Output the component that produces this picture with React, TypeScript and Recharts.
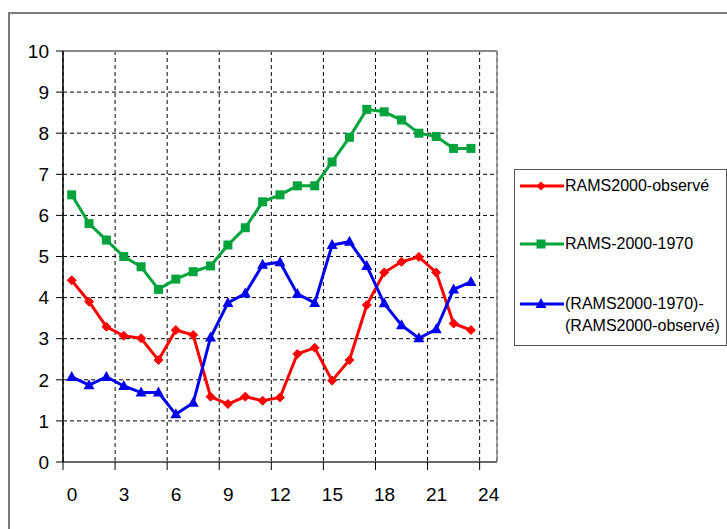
import React from "react";
import { LineChart, Line, XAxis, YAxis, CartesianGrid, ReferenceLine } from "recharts";

const hours = [0.5, 1.5, 2.5, 3.5, 4.5, 5.5, 6.5, 7.5, 8.5, 9.5, 10.5, 11.5, 12.5, 13.5, 14.5, 15.5, 16.5, 17.5, 18.5, 19.5, 20.5, 21.5, 22.5, 23.5];
const ramsObs = [4.42, 3.9, 3.29, 3.07, 3.01, 2.48, 3.21, 3.09, 1.59, 1.41, 1.59, 1.49, 1.57, 2.63, 2.78, 1.98, 2.48, 3.82, 4.61, 4.87, 4.99, 4.61, 3.37, 3.21];
const rams2000_1970 = [6.5, 5.8, 5.4, 5.0, 4.75, 4.2, 4.45, 4.63, 4.77, 5.28, 5.7, 6.33, 6.5, 6.72, 6.72, 7.3, 7.9, 8.58, 8.52, 8.32, 8.0, 7.92, 7.63, 7.63];
const diffSeries = [2.07, 1.87, 2.07, 1.85, 1.69, 1.69, 1.16, 1.44, 3.03, 3.87, 4.1, 4.8, 4.86, 4.09, 3.87, 5.28, 5.36, 4.77, 3.86, 3.33, 3.01, 3.23, 4.2, 4.38];
const xTicks = [0, 3, 6, 9, 12, 15, 18, 21, 24];
const yTicks = [0, 1, 2, 3, 4, 5, 6, 7, 8, 9, 10];

const RED = "#FF0000";
const GREEN = "#00A33C";
const BLUE = "#0000F0";

const data = hours.map((h, i) => ({
  x: h,
  obs: ramsObs[i],
  g: rams2000_1970[i],
  d: diffSeries[i],
}));

const FONT = '"Liberation Sans", Arial, sans-serif';

const Diamond = (props: any) => {
  const { cx, cy, key } = props;
  const r = 4.5;
  return <polygon key={key} points={`${cx},${cy - r} ${cx + r},${cy} ${cx},${cy + r} ${cx - r},${cy}`} fill={RED} stroke={RED} strokeWidth={1} />;
};
const Square = (props: any) => {
  const { cx, cy, key } = props;
  const s = 4.5;
  return <rect key={key} x={cx - s} y={cy - s} width={2 * s} height={2 * s} fill={GREEN} />;
};
const Triangle = (props: any) => {
  const { cx, cy, key } = props;
  return <polygon key={key} points={`${cx},${cy - 6} ${cx + 5.5},${cy + 4} ${cx - 5.5},${cy + 4}`} fill={BLUE} />;
};

const XTick = (props: any) => {
  const { x, y, payload } = props;
  return (
    <text x={x + 9} y={y + 31} textAnchor="middle" fontSize={19} fontFamily={FONT} fill="#000">
      {payload.value}
    </text>
  );
};

const legendItems = [
  { color: RED, lines: ["RAMS2000-observé"], marker: "diamond", top: 16 },
  { color: GREEN, lines: ["RAMS-2000-1970"], marker: "square", top: 74 },
  { color: BLUE, lines: ["(RAMS2000-1970)-", "(RAMS2000-observé)"], marker: "triangle", top: 134 },
];

const LegendBox = () => (
  <div
    style={{
      position: "absolute",
      left: 514,
      top: 169,
      width: 213,
      height: 177,
      border: "1px solid #555",
      background: "#fff",
      boxSizing: "border-box",
      fontFamily: FONT,
      fontSize: 16,
      color: "#000",
    }}
  >
    {legendItems.map((it) => (
      <div key={it.lines[0]}>
        <svg style={{ position: "absolute", left: 4, top: it.top - 8 }} width={46} height={16}>
          <line x1={1} y1={8} x2={45} y2={8} stroke={it.color} strokeWidth={3} />
          {it.marker === "diamond" && <polygon points="22,3.5 26.5,8 22,12.5 17.5,8" fill={it.color} />}
          {it.marker === "square" && <rect x={17.5} y={3.5} width={9} height={9} fill={it.color} />}
          {it.marker === "triangle" && <polygon points="22,2 27.5,12 16.5,12" fill={it.color} />}
        </svg>
        {it.lines.map((t, j) => (
          <div
            key={t}
            style={{
              position: "absolute",
              left: 50,
              top: it.top - 10 + j * 22,
              lineHeight: "20px",
              whiteSpace: "nowrap",
            }}
          >
            {t}
          </div>
        ))}
      </div>
    ))}
  </div>
);

export default function App() {
  return (
    <div style={{ position: "absolute", left: 0, top: 0, width: 727, height: 529, overflow: "hidden", background: "#fff" }}>
      <div
        style={{
          position: "absolute",
          left: 8,
          top: 12,
          width: 800,
          height: 600,
          borderLeft: "2px solid #7a7a7a",
          borderTop: "2px solid #7a7a7a",
        }}
      />
      <div style={{ position: "absolute", left: 0, top: 0 }}>
        <LineChart width={727} height={529} data={data} margin={{ top: 51, right: 230, bottom: 27, left: 0 }}>
          <CartesianGrid stroke="#000" strokeDasharray="4 3" strokeWidth={1} />
          <ReferenceLine y={10} stroke="#8a8a8a" strokeWidth={2} />
          <ReferenceLine x={25} stroke="#8a8a8a" strokeWidth={1.5} />
          <XAxis
            type="number"
            dataKey="x"
            domain={[0, 25]}
            ticks={xTicks}
            allowDataOverflow
            height={40}
            tickSize={8}
            tickMargin={0}
            axisLine={{ stroke: "#6a6a6a", strokeWidth: 2 }}
            tickLine={{ stroke: "#000" }}
            tick={<XTick />}
            interval={0}
          />
          <YAxis
            type="number"
            domain={[0, 10]}
            ticks={yTicks}
            width={63}
            tickSize={7}
            tickMargin={7}
            interval={0}
            axisLine={{ stroke: "#000", strokeWidth: 1.5 }}
            tickLine={{ stroke: "#000" }}
            tick={{ fontSize: 19, fontFamily: FONT, fill: "#000" }}
          />
          <Line type="linear" dataKey="obs" name="RAMS2000-observé" stroke={RED} strokeWidth={3} dot={Diamond} isAnimationActive={false} />
          <Line type="linear" dataKey="g" name="RAMS-2000-1970" stroke={GREEN} strokeWidth={3} dot={Square} isAnimationActive={false} />
          <Line type="linear" dataKey="d" name="(RAMS2000-1970)-(RAMS2000-observé)" stroke={BLUE} strokeWidth={3} dot={Triangle} isAnimationActive={false} />
        </LineChart>
      </div>
      <LegendBox />
    </div>
  );
}
